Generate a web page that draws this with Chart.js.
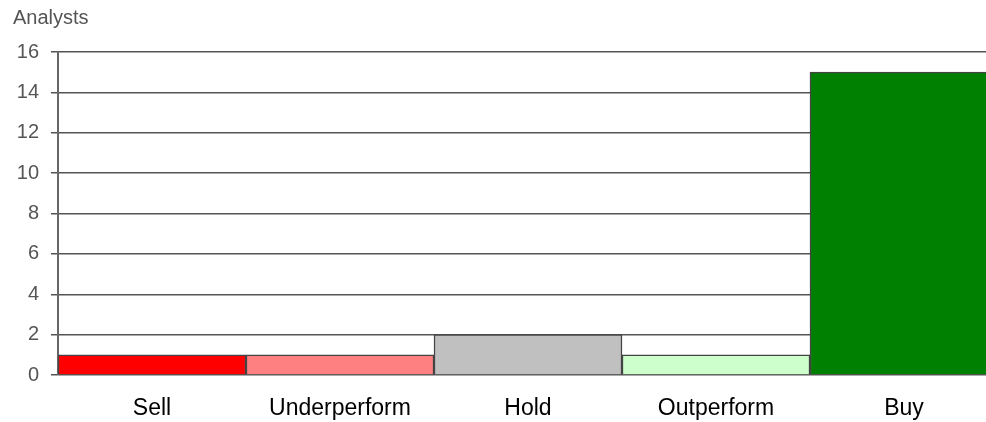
<!DOCTYPE html>
<html>
<head>
<meta charset="utf-8">
<script src="https://cdn.jsdelivr.net/npm/chart.js@4"></script>
<style>
  html, body { margin: 0; padding: 0; background: #fff; overflow: hidden; }
  /* canvas is a little wider than the page: the last column runs off the right edge */
  #wrap { width: 998px; height: 422px; }
</style>
</head>
<body>
<div id="wrap"><canvas id="ratings-chart"></canvas></div>
<script>
const categories = ['Sell', 'Underperform', 'Hold', 'Outperform', 'Buy'];
const analystCounts = [1, 1, 2, 1, 15];
const barColors = ['#ff0000', '#ff8080', '#c0c0c0', '#ccffcc', '#008000'];
const yMax = 16;
const yStep = 2;

const ctx = document.getElementById('ratings-chart').getContext('2d');

new Chart(ctx, {
  type: 'bar',
  data: {
    labels: categories,
    datasets: [{
      data: analystCounts,
      backgroundColor: barColors,
      borderColor: '#444',
      borderWidth: 1.5,
      barPercentage: 1,
      categoryPercentage: 1,
    }]
  },
  options: {
    responsive: true,
    maintainAspectRatio: false,
    animation: false,
    layout: { padding: { left: 13, right: 0, top: 0, bottom: 0 } },
    plugins: {
      legend: { display: false },
      tooltip: { enabled: false },
      title: {
        display: true,
        text: 'Analysts',
        align: 'start',
        color: '#555',
        font: { family: 'Liberation Sans, Arial, sans-serif', size: 20, weight: 'normal' },
        padding: { top: 6, bottom: 22 },
      }
    },
    scales: {
      x: {
        grid: { display: false, drawTicks: false },
        border: { display: false },
        ticks: {
          color: '#000',
          padding: 20,
          font: { family: 'Liberation Sans, Arial, sans-serif', size: 23 },
        },
        afterFit: scale => { scale.height = 47; },
      },
      y: {
        min: 0,
        max: yMax,
        grid: { color: '#555', lineWidth: 1.5, tickLength: 7 },
        border: { color: '#666', width: 2 },
        ticks: {
          stepSize: yStep,
          color: '#555',
          padding: 12,
          font: { family: 'Liberation Sans, Arial, sans-serif', size: 20 },
        },
        afterFit: scale => { scale.width = 45; },
      }
    }
  }
});
</script>
</body>
</html>
